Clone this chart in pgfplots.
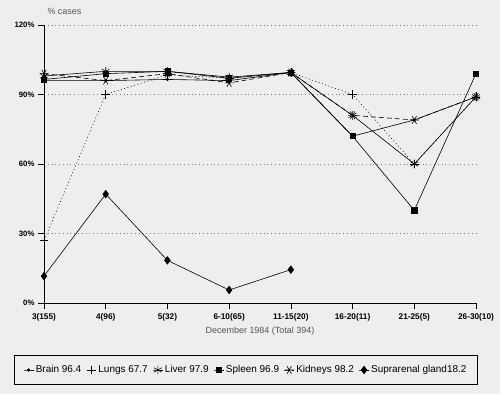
\documentclass[border=0pt]{standalone}
\usepackage{fontspec}
\setmainfont{Liberation Sans}
\usepackage{pgfplots}
\pgfplotsset{compat=1.18}
\definecolor{bg}{RGB}{238,238,238}
\definecolor{lbl}{RGB}{85,85,85}
\begin{document}
\begin{tikzpicture}
\fill[bg] (-44bp,-91bp) rectangle (456bp,303bp);
\useasboundingbox (-44bp,-91bp) rectangle (456bp,303bp);
\begin{axis}[
 name=ax,
 at={(0,0)}, anchor=south west,
 scale only axis, width=432bp, height=278bp,
 xmin=0, xmax=7, ymin=0, ymax=120,
 axis x line*=bottom, axis y line*=left,
 axis line style={-, line width=0.9pt},
 xtick={0,...,7},
 xticklabels={3(155),4(96),5(32),6-10(65),11-15(20),16-20(11),21-25(5),26-30(10)},
 ytick={0,30,60,90,120},
 yticklabel={\pgfmathprintnumber{\tick}\%},
 /pgf/number format/assume math mode=true,
 tick align=outside, major tick length=6bp,
 tick style={black, line width=0.7pt},
 xticklabel style={font=\bfseries\fontsize{8.3}{10}\selectfont, yshift=-1bp},
 yticklabel style={font=\bfseries\fontsize{7.8}{9}\selectfont},
 ymajorgrids,
 grid style={gray, line width=0.7pt, dash pattern=on 0.8pt off 3pt},
 xlabel={December 1984 (Total 394)},
 xlabel style={font=\fontsize{9}{11}\selectfont, text=lbl, yshift=1bp},
 legend style={at={(0.4676,-0.241)}, anchor=center, legend columns=6,
   draw=black, fill=none, font=\fontsize{10}{12}\selectfont,
   inner xsep=9bp, inner ysep=8bp,
   /tikz/every even column/.append style={column sep=3bp}},
 legend image code/.code={\draw[mark repeat=2,mark phase=2,#1] plot coordinates {(0cm,0cm) (0.17cm,0cm) (0.34cm,0cm)};},
 every axis plot/.append style={black, line width=0.6pt},
 clip=false,
]
% Brain
\addplot[solid, mark=*, mark size=1.3pt] coordinates {
 (0,96) (1,96) (2,96.5) (3,96) (4,99.5) (5,72) (6,79) (7,89)};
\addlegendentry{Brain 96.4}
% Lungs
\addplot[dash pattern=on 0.9pt off 2.6pt, mark=+, mark size=4.5pt, mark options={solid}] coordinates {
 (0,27) (1,90) (2,98.5) (3,97) (4,99.5) (5,90) (6,60) (7,89)};
\addlegendentry{Lungs 67.7}
% Liver
\addplot[solid, mark=asterisk, mark size=4.5pt] coordinates {
 (0,98) (1,100) (2,100) (3,97.5) (4,99.5) (5,81) (6,60) (7,89)};
\addlegendentry{Liver 97.9}
% Spleen
\addplot[solid, mark=square*, mark size=2.6pt] coordinates {
 (0,96.5) (1,99) (2,100) (3,97) (4,99.5) (5,72) (6,40) (7,99)};
\addlegendentry{Spleen 96.9}
% Kidneys
\addplot[dash pattern=on 5pt off 3pt, mark=asterisk, mark size=4.5pt, mark options={solid, rotate=90}] coordinates {
 (0,99) (1,96) (2,99) (3,95) (4,99.5) (5,81) (6,79) (7,89)};
\addlegendentry{Kidneys 98.2}
% Suprarenal gland
\addplot[solid, mark=diamond*, mark size=3.8pt] coordinates {
 (0,11.6) (1,47) (2,18.4) (3,5.6) (4,14.4)};
\addlegendentry{Suprarenal gland18.2}
\end{axis}
\node[anchor=west, text=lbl, font=\fontsize{9}{11}\selectfont] at ([yshift=14bp]ax.north west) {\% cases};
\end{tikzpicture}
\end{document}
